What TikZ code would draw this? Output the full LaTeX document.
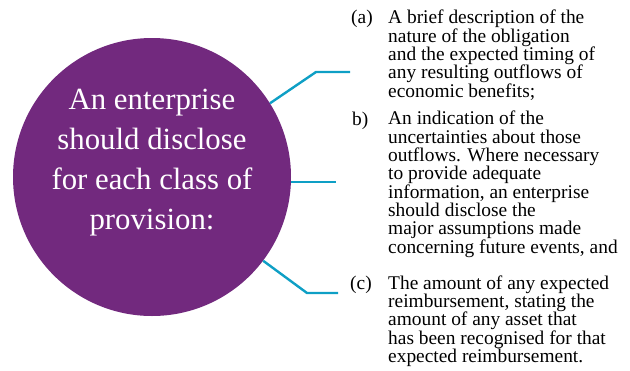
\documentclass[tikz,border=0pt]{standalone}
\usepackage{fontspec}
\setmainfont{Liberation Serif}
\usetikzlibrary{positioning}
\definecolor{discpurple}{HTML}{72297E}
\definecolor{linkblue}{HTML}{0E9FC5}

\begin{document}
\begin{tikzpicture}[
    x=1pt, y=-1pt,
    disc/.style={circle, fill=discpurple, minimum size=278pt, inner sep=0pt},
    title/.style={align=center, text=white, font=\fontsize{30.8}{40}\selectfont},
    tag/.style={anchor=base west, inner sep=0pt, font=\fontsize{19.4}{18.3}\selectfont},
    item/.style={tag, align=left},
    link/.style={linkblue, line width=2.4pt}
]
\useasboundingbox (0,0) rectangle (630,370);
\node[disc] (disc) at (152,177) {};
\node[title] (title) at (152,162.5) {An enterprise\\should disclose\\for each class of\\provision:};
% the three items (text nodes sit on their last line)
\node[tag] (taga) at (351,23) {(a)};
\node[item] (texta) at (388,97) {A brief description of the\\nature of the obligation\\and the expected timing of\\any resulting outflows of\\economic benefits;};
\node[tag] (tagb) at (352,125) {b)};
\node[item] (textb) at (388,253) {An indication of the\\uncertainties about those\\outflows. Where necessary\\to provide adequate\\information, an enterprise\\should disclose the\\major assumptions made\\concerning future events, and};
\node[tag] (tagc) at (350,289.5) {(c)};
\node[item] (textc) at (388,362.5) {The amount of any expected\\reimbursement, stating the\\amount of any asset that\\has been recognised for that\\expected reimbursement.};
% connectors
\coordinate (a1) at (316,72);
\coordinate (a2) at (350,72);
\coordinate (b2) at (336,183);
\coordinate (c1) at (307,293);
\coordinate (c2) at (338,293);
\draw[link] (disc.32) -- (a1) -- (a2);
\draw[link] (disc.-2.5) -- (disc.-2.5 -| b2);
\draw[link] (disc.-37) -- (c1) -- (c2);
\end{tikzpicture}
\end{document}
